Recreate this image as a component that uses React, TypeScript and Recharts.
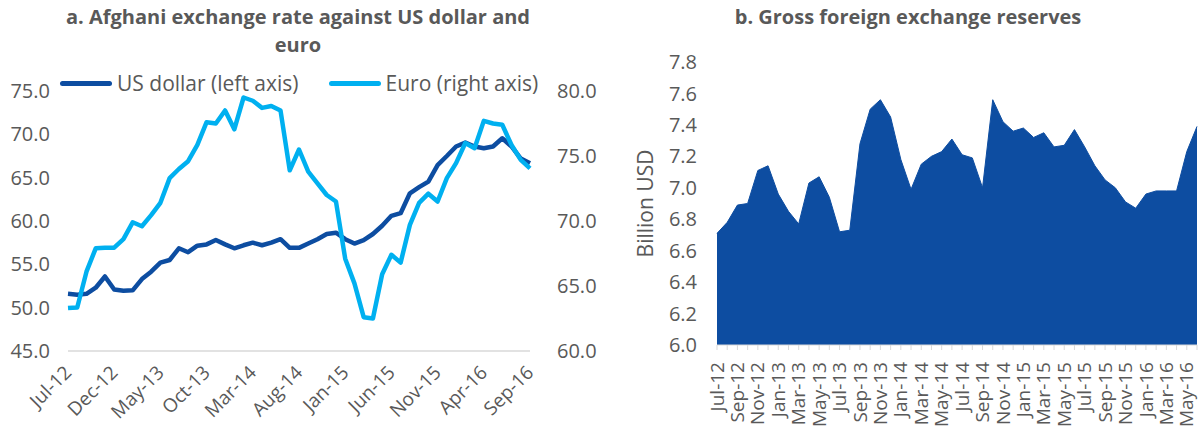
import React from "react";
import { LineChart, Line, AreaChart, Area, XAxis, YAxis } from "recharts";

const FONT = "'Open Sans', sans-serif";
const GREY = "#595959";
const DARK = "#0D4DA1";
const LIGHT = "#00B0F0";

// panel a: Afghani per USD / EUR, monthly
const rateMonths = [
  "Jul-12", "Aug-12", "Sep-12", "Oct-12", "Nov-12", "Dec-12",
  "Jan-13", "Feb-13", "Mar-13", "Apr-13", "May-13", "Jun-13", "Jul-13", "Aug-13", "Sep-13", "Oct-13", "Nov-13", "Dec-13",
  "Jan-14", "Feb-14", "Mar-14", "Apr-14", "May-14", "Jun-14", "Jul-14", "Aug-14", "Sep-14", "Oct-14", "Nov-14", "Dec-14",
  "Jan-15", "Feb-15", "Mar-15", "Apr-15", "May-15", "Jun-15", "Jul-15", "Aug-15", "Sep-15", "Oct-15", "Nov-15", "Dec-15",
  "Jan-16", "Feb-16", "Mar-16", "Apr-16", "May-16", "Jun-16", "Jul-16", "Aug-16", "Sep-16",
];
const usdRate = [
  51.6, 51.5, 51.6, 52.3, 53.6, 52.1, 51.95, 52.0, 53.3, 54.15, 55.2, 55.5, 56.85, 56.4, 57.15, 57.3, 57.8,
  57.3, 56.85, 57.2, 57.5, 57.2, 57.5, 57.9, 56.9, 56.9, 57.4, 57.9, 58.5, 58.65, 57.9, 57.4, 57.8, 58.5,
  59.45, 60.6, 60.9, 63.2, 63.9, 64.55, 66.45, 67.5, 68.6, 69.05, 68.6, 68.4, 68.6, 69.55, 68.6, 67.2, 66.65,
];
const euroRate = [
  63.3, 63.35, 66.1, 67.9, 67.95, 67.95, 68.6, 69.9, 69.6, 70.45, 71.4, 73.3, 74.0, 74.6, 75.85, 77.6, 77.5,
  78.5, 77.05, 79.5, 79.25, 78.7, 78.85, 78.5, 73.9, 75.5, 73.8, 72.9, 72.0, 71.5, 67.1, 65.2, 62.6, 62.5,
  65.9, 67.4, 66.8, 69.7, 71.4, 72.1, 71.5, 73.3, 74.45, 76.0, 75.6, 77.7, 77.5, 77.4, 75.85, 74.7, 74.05,
];
const usdTicks = [45, 50, 55, 60, 65, 70, 75];
const euroTicks = [60, 65, 70, 75, 80];

// panel b: gross reserves, billion USD
const reserveMonths = [
  "Jul-12", "Aug-12", "Sep-12", "Oct-12", "Nov-12", "Dec-12",
  "Jan-13", "Feb-13", "Mar-13", "Apr-13", "May-13", "Jun-13", "Jul-13", "Aug-13", "Sep-13", "Oct-13", "Nov-13", "Dec-13",
  "Jan-14", "Feb-14", "Mar-14", "Apr-14", "May-14", "Jun-14", "Jul-14", "Aug-14", "Sep-14", "Oct-14", "Nov-14", "Dec-14",
  "Jan-15", "Feb-15", "Mar-15", "Apr-15", "May-15", "Jun-15", "Jul-15", "Aug-15", "Sep-15", "Oct-15", "Nov-15", "Dec-15",
  "Jan-16", "Feb-16", "Mar-16", "Apr-16", "May-16", "Jun-16",
];
const reserves = [
  6.71, 6.78, 6.89, 6.9, 7.11, 7.14, 6.96, 6.85, 6.77, 7.03, 7.07, 6.94, 6.72, 6.73, 7.28, 7.5,
  7.56, 7.45, 7.18, 6.99, 7.15, 7.2, 7.23, 7.31, 7.21, 7.19, 7.0, 7.56, 7.42, 7.36, 7.38, 7.32,
  7.35, 7.26, 7.27, 7.37, 7.26, 7.14, 7.05, 7.0, 6.91, 6.87, 6.96, 6.98, 6.98, 6.98, 7.23, 7.39,
];
const reserveTicks = [6.0, 6.2, 6.4, 6.6, 6.8, 7.0, 7.2, 7.4, 7.6, 7.8];

const rateData = rateMonths.map((m, i) => ({ month: m, usd: usdRate[i], euro: euroRate[i] }));
const reserveData = reserveMonths.map((m, i) => ({ month: m, reserves: reserves[i] }));

const RateTick = (props: any) => {
  const { x, y, payload } = props;
  return (
    <text x={x} y={y} dy="0.35em" textAnchor="end" transform={`rotate(-45, ${x}, ${y})`}
      fill={GREY} fontSize={19} fontFamily={FONT}>
      {payload.value}
    </text>
  );
};

// every month gets a tick mark, only every second one a label
const ReserveTick = (props: any) => {
  const { x, y, payload, index } = props;
  if (index % 2 !== 0) return <g />;
  return (
    <text x={x} y={y} dy="0.35em" textAnchor="end" transform={`rotate(-90, ${x}, ${y})`}
      fill={GREY} fontSize={19} fontFamily={FONT}>
      {payload.value}
    </text>
  );
};

const legendSwatch = (color: string): React.CSSProperties => ({
  display: "inline-block",
  width: 52,
  height: 5,
  borderRadius: 3,
  background: color,
  marginRight: 5,
});

const titleStyle: React.CSSProperties = {
  position: "absolute",
  fontFamily: FONT,
  fontWeight: 700,
  fontSize: 20,
  color: GREY,
  textAlign: "center",
  lineHeight: "28px",
};

export default function App() {
  return (
    <div style={{ position: "absolute", left: 0, top: 0, width: 1199, height: 438, background: "#fff" }}>
      <div style={{ ...titleStyle, left: 0, top: 3, width: 596 }}>
        a. Afghani exchange rate against US dollar and
        <br />
        euro
      </div>
      <div style={{ ...titleStyle, left: 610, top: 3, width: 596 }}>b. Gross foreign exchange reserves</div>

      <div style={{ position: "absolute", left: 0, top: 0 }}>
        <LineChart width={600} height={438} data={rateData} margin={{ top: 91, right: 0, left: 0, bottom: 0 }}>
          <XAxis dataKey="month" interval={4} height={87} tick={<RateTick />} tickLine={false}
            axisLine={{ stroke: "#D9D9D9", strokeWidth: 1.5 }} tickMargin={12} />
          <YAxis yAxisId="left" width={68} domain={[45, 75]} ticks={usdTicks} axisLine={false} tickLine={false}
            tickMargin={12} tickFormatter={(v: number) => v.toFixed(1)}
            tick={{ fill: GREY, fontSize: 20, fontFamily: FONT }} />
          <YAxis yAxisId="right" orientation="right" width={70} domain={[60, 80]} ticks={euroTicks}
            axisLine={false} tickLine={false} tickMargin={21} tickFormatter={(v: number) => v.toFixed(1)}
            tick={{ fill: GREY, fontSize: 20, fontFamily: FONT, textAnchor: "start" }} />
          <Line yAxisId="left" dataKey="usd" stroke={DARK} strokeWidth={4.5} dot={false}
            strokeLinejoin="round" isAnimationActive={false} />
          <Line yAxisId="right" dataKey="euro" stroke={LIGHT} strokeWidth={4.5} dot={false}
            strokeLinejoin="round" isAnimationActive={false} />
        </LineChart>
      </div>

      <div style={{ position: "absolute", left: 60, top: 70, display: "flex", alignItems: "center",
        fontFamily: FONT, fontSize: 21, color: GREY, lineHeight: "26px", whiteSpace: "nowrap" }}>
        <span style={legendSwatch(DARK)} />
        <span style={{ marginRight: 30 }}>US dollar (left axis)</span>
        <span style={legendSwatch(LIGHT)} />
        <span>Euro (right axis)</span>
      </div>

      <div style={{ position: "absolute", left: 600, top: 0 }}>
        <AreaChart width={599} height={438} data={reserveData} margin={{ top: 62, right: 2, left: 0, bottom: 0 }}>
          <XAxis dataKey="month" interval={0} height={93} tick={<ReserveTick />} tickSize={5}
            tickLine={{ stroke: "#D9D9D9" }} axisLine={{ stroke: "#D9D9D9" }} tickMargin={12} />
          <YAxis width={117} domain={[6, 7.8]} ticks={reserveTicks} axisLine={false} tickLine={false}
            tickMargin={14} tickFormatter={(v: number) => v.toFixed(1)}
            tick={{ fill: GREY, fontSize: 20, fontFamily: FONT }}
            label={{ value: "Billion USD", angle: -90, position: "insideLeft", offset: 46,
              style: { fill: GREY, fontSize: 21, fontFamily: FONT, textAnchor: "middle" } }} />
          <Area dataKey="reserves" type="linear" stroke={DARK} strokeWidth={1} fill={DARK} fillOpacity={1}
            isAnimationActive={false} />
        </AreaChart>
      </div>
    </div>
  );
}
